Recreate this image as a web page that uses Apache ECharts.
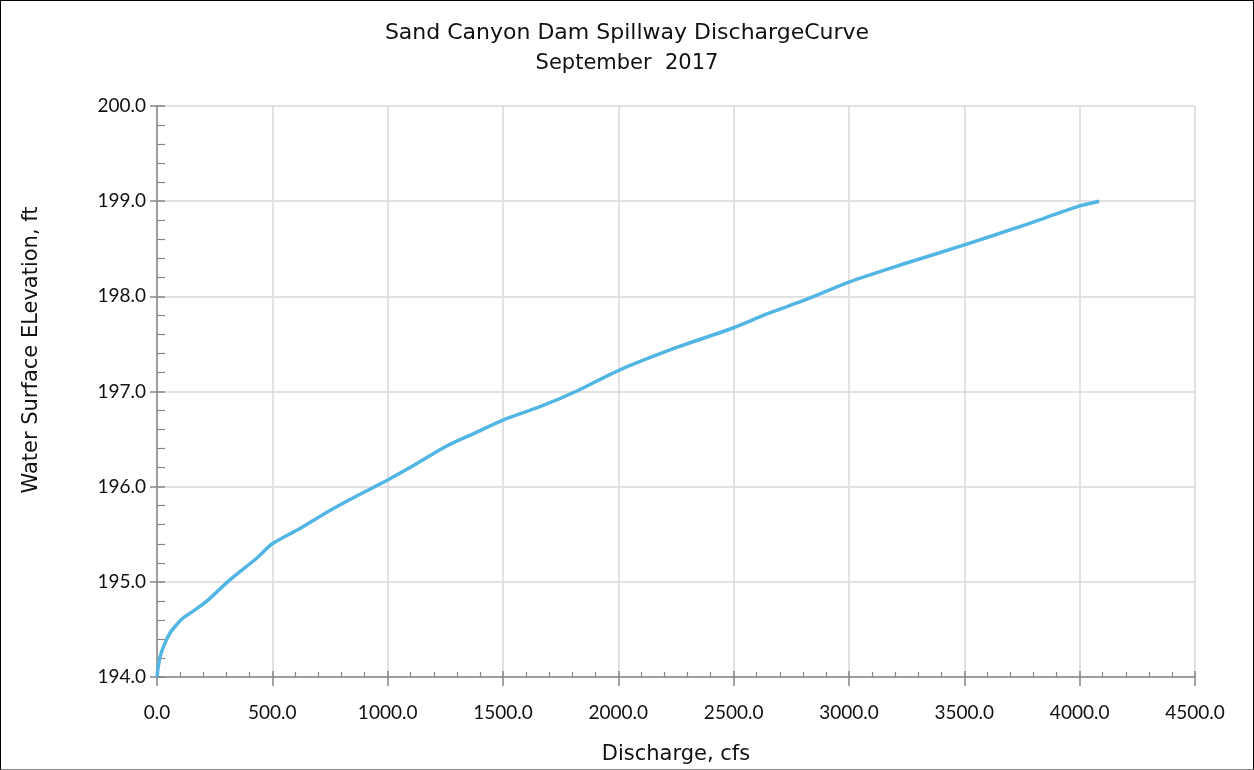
<!DOCTYPE html>
<html>
<head>
<meta charset="utf-8">
<script src="https://cdn.jsdelivr.net/npm/echarts@6/dist/echarts.min.js"></script>
<style>
html,body{margin:0;padding:0;background:#fff;}
#frame{position:absolute;left:0;top:0;width:1254px;height:770px;box-sizing:border-box;border:1px solid #000;border-bottom-color:#888;}
#chart{position:absolute;left:0;top:0;width:1254px;height:770px;}
</style>
</head>
<body>
<div id="chart"></div>
<div id="frame"></div>
<script>
// Discharge (cfs)
var discharge = [0, 5, 13, 30, 56, 85, 113, 156, 217, 316, 433, 500, 620, 750, 880, 1000, 1125, 1250, 1375, 1500, 1660, 1816, 2000, 2250, 2500, 2650, 2818, 3000, 3250, 3500, 3750, 4000, 4085];
// Water surface elevation (ft)
var elevation = [194.0, 194.1, 194.21, 194.33, 194.46, 194.55, 194.62, 194.69, 194.80, 195.02, 195.25, 195.40, 195.56, 195.75, 195.92, 196.07, 196.24, 196.42, 196.56, 196.70, 196.84, 197.0, 197.22, 197.46, 197.67, 197.82, 197.97, 198.15, 198.35, 198.54, 198.74, 198.95, 199.0];
var xTicks = [0, 500, 1000, 1500, 2000, 2500, 3000, 3500, 4000, 4500];
var yTicks = [194, 195, 196, 197, 198, 199, 200];

var titleText = 'Sand Canyon Dam Spillway DischargeCurve';
var subtitleText = 'September  2017';
var xName = 'Discharge, cfs';
var yName = 'Water Surface ELevation, ft';

var FONT = 'Lato, "Open Sans", sans-serif';
var WIDE = '"DejaVu Sans", sans-serif';
var points = discharge.map(function (d, i) { return [d, elevation[i]]; });

var chart = echarts.init(document.getElementById('chart'));
var axisGray = '#878787';
var gridGray = '#d9d9d9';

chart.setOption({
  animation: false,
  backgroundColor: '#fff',
  title: {
    text: titleText,
    subtext: subtitleText,
    left: 'center',
    top: 17,
    itemGap: 9,
    textStyle: { fontFamily: WIDE, fontSize: 22, fontWeight: 'normal', color: '#111' },
    subtextStyle: { fontFamily: WIDE, fontSize: 21, color: '#111' }
  },
  graphic: [{
    type: 'text',
    x: 32, y: 350,
    rotation: Math.PI / 2,
    style: { text: yName, fontFamily: WIDE, fontSize: 21, fill: '#111', align: 'center', verticalAlign: 'middle' }
  }],
  grid: { left: 157, right: 59, top: 106, bottom: 93 },
  xAxis: [{
    type: 'value',
    min: xTicks[0], max: xTicks[xTicks.length - 1], interval: 500,
    name: xName, nameLocation: 'middle', nameGap: 67,
    nameTextStyle: { fontFamily: WIDE, fontSize: 21, color: '#111' },
    axisLine: { show: true, lineStyle: { color: axisGray, width: 1.5 } },
    axisTick: { show: true, inside: true, length: 6, lineStyle: { color: axisGray, width: 1.5 } },
    minorTick: { show: true, splitNumber: 5, length: 5, lineStyle: { color: axisGray, width: 1.2 } },
    axisLabel: { margin: 26, fontFamily: FONT, fontSize: 19, color: '#111', formatter: function (v) { return v.toFixed(1); } },
    splitLine: { show: true, lineStyle: { color: gridGray, width: 1.5 } }
  }, {
    type: 'value', position: 'bottom',
    min: xTicks[0], max: xTicks[xTicks.length - 1], interval: 500,
    axisLine: { show: false },
    axisTick: { show: true, inside: false, length: 9, lineStyle: { color: axisGray, width: 1.5 } },
    axisLabel: { show: false },
    splitLine: { show: false }
  }],
  yAxis: [{
    type: 'value',
    min: yTicks[0], max: yTicks[yTicks.length - 1], interval: 1,
    axisLine: { show: true, lineStyle: { color: axisGray, width: 1.5 } },
    axisTick: { show: true, inside: true, length: 8, lineStyle: { color: axisGray, width: 1.5 } },
    minorTick: { show: true, splitNumber: 5, length: 8, lineStyle: { color: axisGray, width: 1.2 } },
    axisLabel: { margin: 11, fontFamily: FONT, fontSize: 19, color: '#111', formatter: function (v) { return v.toFixed(1); } },
    splitLine: { show: true, lineStyle: { color: gridGray, width: 1.5 } }
  }, {
    type: 'value', position: 'left',
    min: yTicks[0], max: yTicks[yTicks.length - 1], interval: 1,
    axisLine: { show: false },
    axisTick: { show: true, inside: false, length: 7, lineStyle: { color: axisGray, width: 1.5 } },
    axisLabel: { show: false },
    splitLine: { show: false }
  }],
  series: [{
    type: 'line',
    xAxisIndex: 0, yAxisIndex: 0,
    data: points,
    showSymbol: false,
    symbol: 'none',
    smooth: 0.3,
    lineStyle: { color: '#52b6e4', width: 3.5 }
  }]
});
</script>
</body>
</html>
